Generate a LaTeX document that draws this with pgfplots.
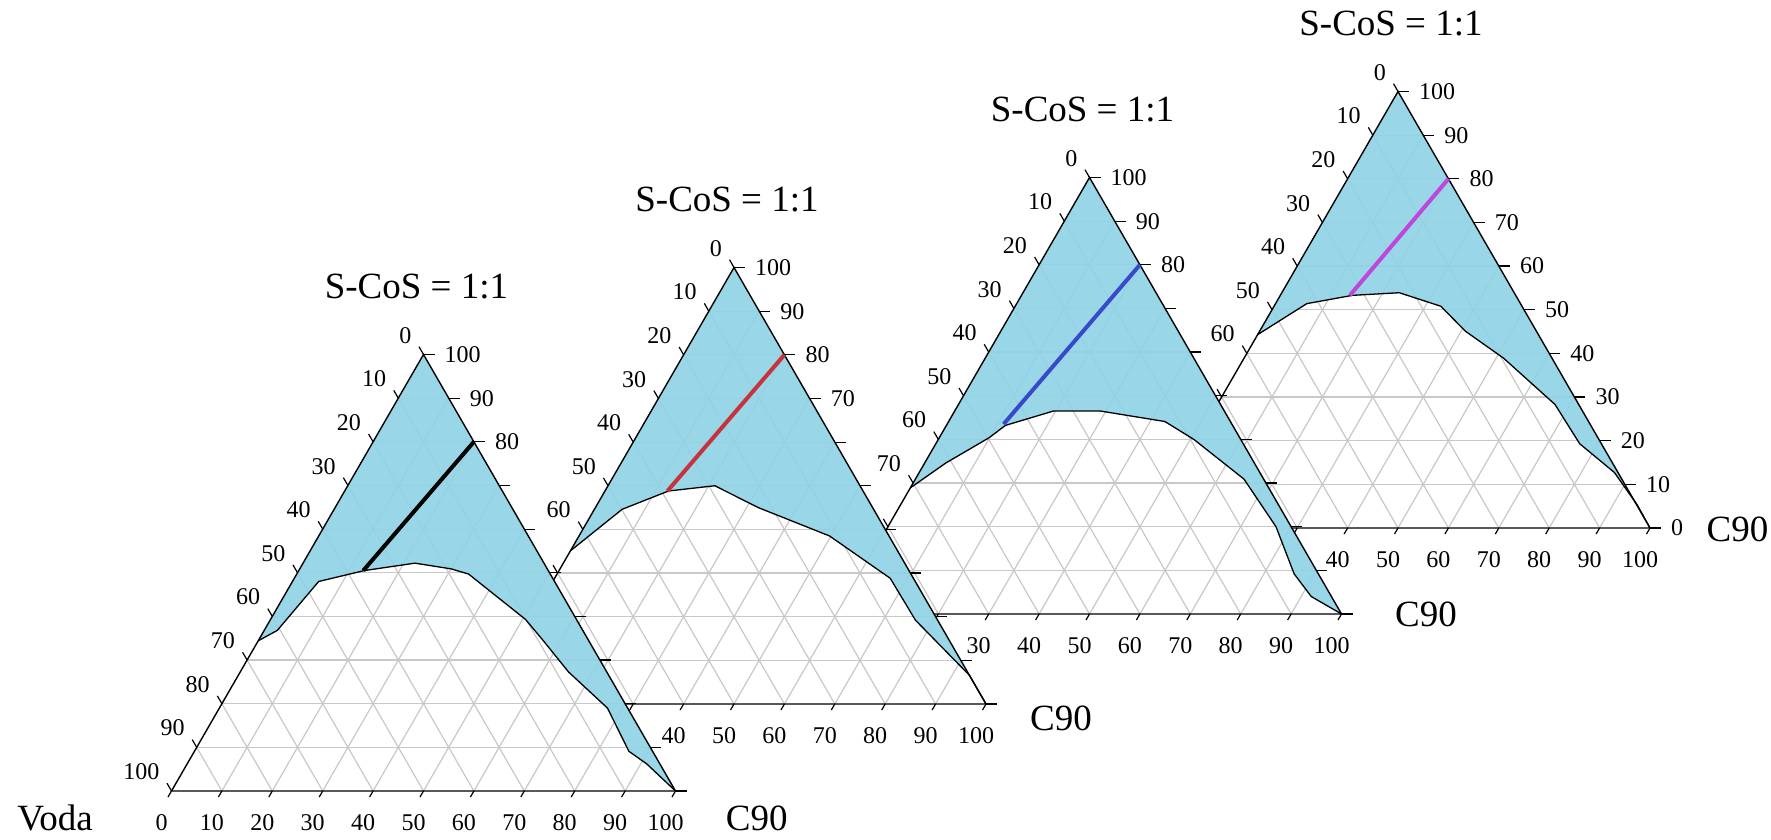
\documentclass[border=0pt]{standalone}
\usepackage{fontspec}
\setmainfont{Liberation Serif}
\usepackage{pgfplots}
\usepackage{pgfplotstable}
\pgfplotsset{compat=1.18}

\definecolor{fillblue}{RGB}{142,211,230}
\definecolor{tieRed}{RGB}{200,50,60}
\definecolor{tieBlue}{RGB}{55,75,200}
\definecolor{tieMag}{RGB}{190,70,220}
\definecolor{gridc}{RGB}{200,200,200}

\newcommand{\tickfont}{\fontsize{24pt}{26pt}\selectfont}
\newcommand{\titlefont}{\fontsize{37pt}{40pt}\selectfont}
\newcommand{\cornerfont}{\fontsize{37pt}{40pt}\selectfont}

% binodal curves: c = C90 (%), t = S-CoS (%)
\pgfplotstableread{
c t
0 34.4
2.6 36.8
5.2 48.0
13.0 50.5
22.2 52.2
30.0 50.9
34.1 49.7
50.6 39.3
56.6 34.4
65.1 27.3
77.0 19.0
86.2 9.1
91.2 6.2
100 0
}\curveA
\pgfplotstableread{
c t
0 35.1
5.5 44.6
12.6 48.8
21.2 50.0
32.3 45.0
49.7 38.5
66.6 28.8
76.4 19.2
93.4 6.6
100 0
}\curveB
\pgfplotstableread{
c t
0 28.9
4.2 34.6
9.9 40.4
11.7 43.2
19.6 46.5
28.9 46.5
42.9 44.1
50.7 40.0
65.2 30.9
77.0 20.0
86.0 9.2
92.0 4.0
100 0
}\curveC
\pgfplotstableread{
c t
0 44.3
6.2 51.4
14.3 53.3
23.3 53.9
33.1 50.8
40.8 45.1
51.5 38.9
67.0 28.3
76.4 19.3
86.6 12.7
94.8 5.3
100 0
}\curveD
% dilution lines
\pgfplotstableread{
c t
20 80
12.8 50.5
}\tieA
\pgfplotstableread{
c t
20 80
12.4 48.8
}\tieB
\pgfplotstableread{
c t
20 80
11.2 43.5
}\tieC
\pgfplotstableread{
c t
20 80
13.8 53.3
}\tieD

\newcommand{\tern}[8]{%
\begin{axis}[at={(#1pt,#2pt)}, anchor=south west, scale only axis,
  width=504pt, height=436.5pt, xmin=0, xmax=100, ymin=0, ymax=100,
  hide axis, clip=false]
 \fill[white] (axis cs:0,0) -- (axis cs:100,0) -- (axis cs:50,100) -- cycle;
 \pgfplotsinvokeforeach{10,20,...,90}{%
   \draw[gridc, line width=1.2pt] (axis cs:{##1/2},##1) -- (axis cs:{100-##1/2},##1);
   \draw[gridc, line width=1.2pt] (axis cs:##1,0) -- (axis cs:{50+##1/2},{100-##1});
   \draw[gridc, line width=1.2pt] (axis cs:{50-##1/2},{100-##1}) -- (axis cs:{100-##1},0);
 }
 \addplot[fill=fillblue, fill opacity=0.9, draw=none]
   table[x expr=\thisrow{c}+0.5*\thisrow{t}, y=t] {#3} -- (axis cs:50,100) -- cycle;
 \addplot[black, line width=1.3pt]
   table[x expr=\thisrow{c}+0.5*\thisrow{t}, y=t] {#3};
 \draw[black, line width=1.4pt] (axis cs:0,0) -- (axis cs:100,0) -- (axis cs:50,100) -- cycle;
 \pgfplotsinvokeforeach{0,10,...,100}{%
   \draw[black, line width=1.2pt] (axis cs:{50-##1/2},{100-##1}) -- ++(-4.5pt,7.8pt);
   \draw[black, line width=1.2pt] (axis cs:{100-##1/2},##1) -- ++(11pt,0pt);
   \draw[black, line width=1.2pt] (axis cs:##1,0) -- ++(-3.5pt,-6pt);
 }
 \addplot[#5, line width=4pt]
   table[x expr=\thisrow{c}+0.5*\thisrow{t}, y=t] {#4};
 \pgfplotsinvokeforeach{#6}{%
   \node[anchor=south east, inner sep=0pt, font=\tickfont]
     at ([xshift=-12pt,yshift=11pt]axis cs:{50-##1/2},{100-##1}) {##1};}
 \pgfplotsinvokeforeach{#7}{%
   \node[anchor=west, inner sep=0pt, font=\tickfont]
     at ([xshift=21pt]axis cs:{100-##1/2},##1) {##1};}
 \pgfplotsinvokeforeach{#8}{%
   \node[inner sep=0pt, font=\tickfont]
     at ([xshift=-10pt,yshift=-32pt]axis cs:##1,0) {##1};}
 \node[font=\titlefont] at ([xshift=-7pt,yshift=68pt]axis cs:50,100) {S-CoS = 1:1};
\end{axis}}

\begin{document}
\begin{tikzpicture}
\path[use as bounding box] (0,0) rectangle (1771pt,839pt);
\tern{1146}{311}{\curveD}{\tieD}{tieMag}{0,10,...,60}{0,10,...,100}{40,50,...,100}
\tern{837.5}{225}{\curveC}{\tieC}{tieBlue}{0,10,...,70}{80,90,100}{30,40,...,100}
\tern{482}{135}{\curveB}{\tieB}{tieRed}{0,10,...,60}{70,80,90,100}{40,50,...,100}
\tern{171.5}{48}{\curveA}{\tieA}{black}{0,10,...,100}{80,90,100}{0,10,...,100}
\node[font=\cornerfont, anchor=base, inner sep=0pt] at (55pt,9pt) {Voda};
\node[font=\cornerfont, anchor=base, inner sep=0pt] at (756.7pt,9pt) {C90};
\node[font=\cornerfont, anchor=base, inner sep=0pt] at (1061pt,109pt) {C90};
\node[font=\cornerfont, anchor=base, inner sep=0pt] at (1426pt,212.3pt) {C90};
\node[font=\cornerfont, anchor=base, inner sep=0pt] at (1737.5pt,297.3pt) {C90};
\end{tikzpicture}
\end{document}
